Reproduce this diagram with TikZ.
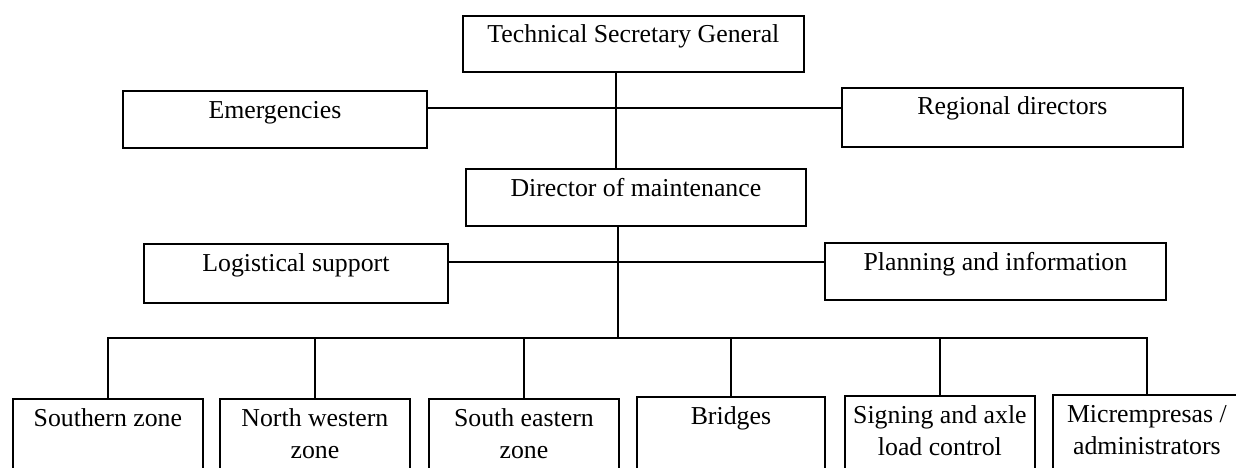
\documentclass[tikz,border=0pt]{standalone}
\usepackage{fontspec}
\setmainfont{Liberation Serif}
\begin{document}
\begin{tikzpicture}[x=1pt,y=-1pt,
  box/.style={draw, line width=1.8pt, rectangle, inner sep=0pt, anchor=north west},
  lbl/.style={anchor=base, inner sep=0pt, align=center, font=\fontsize{25.8}{32}\selectfont},
  wire/.style={line width=1.8pt}]
\useasboundingbox (0,0) rectangle (1236,468);
\fill[white] (0,0) rectangle (1236,468);
\clip (0,0) rectangle (1236,468);
% upper boxes
\node[box, minimum width=341pt, minimum height=56pt] (tsg) at (462,15) {};
\node[box, minimum width=304pt, minimum height=57pt] (emer) at (122,90) {};
\node[box, minimum width=341pt, minimum height=59pt] (reg) at (841,87) {};
\node[box, minimum width=340pt, minimum height=57pt] (dir) at (465,168) {};
\node[box, minimum width=304pt, minimum height=59pt] (log) at (143,243) {};
\node[box, minimum width=341pt, minimum height=57pt] (plan) at (824,242) {};
% bottom boxes
\node[box, minimum width=190pt, minimum height=90pt] (south) at (12,398) {};
\node[box, minimum width=190pt, minimum height=90pt] (nw) at (219,398) {};
\node[box, minimum width=190pt, minimum height=90pt] (se) at (428,398) {};
\node[box, minimum width=188pt, minimum height=90pt] (bri) at (636,396) {};
\node[box, minimum width=190pt, minimum height=90pt] (sig) at (844,395) {};
\node[box, minimum width=188pt, minimum height=90pt] (mic) at (1052,394) {};
% labels (base anchor = last line's baseline)
\node[lbl] (tsgt) at ([yshift=-28pt]tsg.north) {Technical Secretary General};
\node[lbl] (emert) at ([yshift=-28pt]emer.north) {Emergencies};
\node[lbl] (regt) at ([yshift=-28pt]reg.north) {Regional directors};
\node[lbl] (dirt) at ([yshift=-28pt]dir.north) {Director of maintenance};
\node[lbl] (logt) at ([yshift=-28pt]log.north) {Logistical support};
\node[lbl] (plant) at ([yshift=-28pt]plan.north) {Planning and information};
\node[lbl] (southt) at ([yshift=-28pt]south.north) {Southern zone};
\node[lbl] (nwt) at ([yshift=-60pt]nw.north) {North western\\zone};
\node[lbl] (set) at ([yshift=-60pt]se.north) {South eastern\\zone};
\node[lbl] (brit) at ([yshift=-28pt]bri.north) {Bridges};
\node[lbl] (sigt) at ([yshift=-60pt]sig.north) {Signing and axle\\load control};
\node[lbl] (mict) at ([yshift=-60pt]mic.north) {Micrempresas /\\administrators};
% connector coordinates
\coordinate (trunkA) at (616,108);
\coordinate (trunkB) at (618,262);
\coordinate (bus) at (618,338);
% connectors
\draw[wire] (tsg.south -| trunkA) -- (dir.north -| trunkA);
\draw[wire] (emer.east |- trunkA) -- (reg.west |- trunkA);
\draw[wire] (dir.south -| trunkB) -- (bus);
\draw[wire] (log.east |- trunkB) -- (plan.west |- trunkB);
\draw[wire] (south.north) -- (south.north |- bus) -- (mic.north |- bus) -- (mic.north);
\draw[wire] (nw.north) -- (nw.north |- bus);
\draw[wire] (se.north) -- (se.north |- bus);
\draw[wire] (bri.north) -- (bri.north |- bus);
\draw[wire] (sig.north) -- (sig.north |- bus);
\end{tikzpicture}
\end{document}
